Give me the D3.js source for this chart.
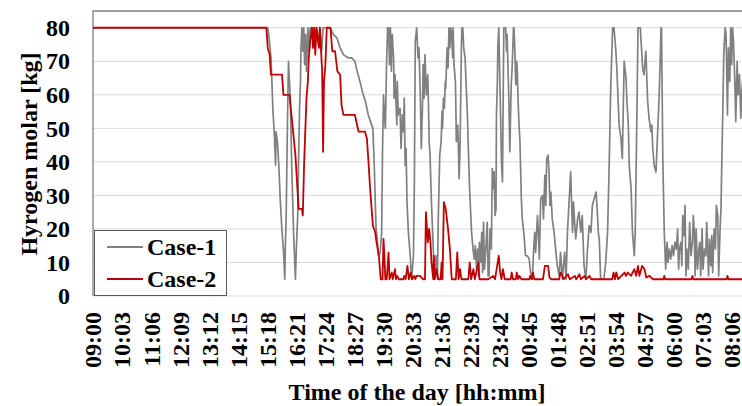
<!DOCTYPE html>
<html>
<head>
<meta charset="utf-8">
<script src="https://cdn.jsdelivr.net/npm/d3@7"></script>
<style>
  body { margin: 0; background: #fff; }
  svg { display: block; font-family: "Liberation Serif", "Times New Roman", serif; font-weight: bold; }
</style>
</head>
<body>
<svg id="chart" width="742" height="406"></svg>
<script>
// minutes after 09:00 and hydrogen mass [kg]
const case1Min = [0,376,379,381,384,386,388,390,393,396,397,400,403,406,410,413,416,417,419,422,424,426,428,431,435,439,441,444,446,448,450,451,453,455,457,459,461,463,466,468,471,479,481,484,489,492,496,499,515,521,529,536,543,554,561,568,573,579,586,591,597,602,607,610,612,614,617,619,623,626,628,630,632,634,637,639,641,643,645,647,649,652,653,655,657,659,660,662,666,668,671,673,675,677,679,681,684,688,691,695,697,699,702,705,707,709,710,712,715,716,718,720,722,723,726,728,729,731,734,738,741,744,747,749,752,755,757,758,760,762,764,765,768,770,772,774,776,778,780,781,783,786,787,788,791,792,794,796,797,799,800,802,804,807,809,812,814,817,821,825,827,829,832,834,836,838,841,843,845,847,849,852,855,857,859,861,864,866,868,870,872,874,875,877,878,880,883,886,888,891,895,897,898,902,904,907,909,912,913,915,917,919,920,922,924,926,929,931,935,938,942,946,949,953,955,958,960,964,966,968,971,975,977,980,982,984,987,989,991,993,996,1000,1004,1007,1011,1014,1018,1023,1026,1029,1032,1036,1040,1042,1045,1047,1051,1054,1058,1061,1065,1069,1072,1076,1080,1083,1087,1091,1093,1096,1098,1101,1108,1112,1116,1119,1123,1127,1130,1134,1136,1139,1141,1145,1148,1152,1156,1158,1161,1163,1167,1170,1174,1176,1180,1182,1187,1190,1192,1195,1199,1203,1206,1210,1212,1214,1217,1221,1224,1228,1232,1233,1236,1239,1242,1245,1247,1250,1253,1256,1259,1262,1265,1268,1270,1272,1275,1277,1279,1282,1284,1286,1288,1291,1294,1297,1300,1302,1304,1306,1308,1311,1314,1316,1318,1321,1323,1326,1329,1331,1333,1335,1337,1340,1342,1344,1347,1350,1352,1355,1357,1360,1362,1364,1366,1368,1371,1373,1376,1378,1381,1383,1385,1387,1389,1392,1394,1397,1399,1402,1405,1407,1410];
const case1Kg  = [80,80,80,78,74,71,64,56,49,39,49,46,39,29,19,14,5,14,24,54,70,64,59,39,19,5,14,24,42,56,64,74,80,73,80,69,78,67,80,73,80,80,74,80,75,80,73,80,80,78,77,74,72,71,71,70,67,64,60,58,54,52,50,39,29,20,16,12,13,19,44,60,54,50,71,80,80,69,80,67,78,71,59,66,58,51,64,54,56,44,54,49,59,39,44,28,19,12,5,12,34,76,80,71,74,64,59,44,59,69,59,72,64,60,66,54,46,42,28,14,6,12,5,24,42,46,55,50,59,56,64,62,74,68,80,74,80,78,71,80,69,64,56,46,51,47,35,44,54,74,80,80,74,71,64,54,44,31,19,13,11,15,8,14,6,16,10,19,7,22,8,14,22,6,6,20,14,38,32,37,24,26,54,64,74,80,60,40,34,80,80,73,78,58,43,63,68,80,80,73,63,70,68,58,51,46,29,23,18,12,12,11,7,5,12,19,13,24,19,11,29,30,23,36,27,41,42,37,27,31,23,19,13,9,6,13,5,13,5,19,27,37,19,28,21,17,23,25,19,24,9,5,13,21,19,27,29,31,27,19,17,5,5,10,19,36,63,80,80,73,68,58,51,47,41,70,65,58,51,39,32,19,12,19,58,80,80,73,68,66,73,58,53,49,51,44,39,37,47,60,80,80,39,19,8,16,10,14,11,15,12,16,14,20,8,14,16,9,24,18,27,6,14,8,22,12,16,24,19,6,20,8,14,16,6,20,8,14,12,22,14,6,17,9,18,7,20,14,27,24,6,20,26,42,56,72,80,78,54,74,64,80,69,80,76,64,52,70,60,66,53,61,66];

const case2Min = [0,376,379,383,386,410,413,426,429,434,439,446,453,455,458,463,466,468,471,475,477,480,482,485,490,492,497,499,501,504,507,515,519,525,530,536,539,543,568,576,590,594,597,601,607,612,615,620,624,628,630,632,634,637,641,643,648,650,655,657,660,663,673,675,678,682,685,689,692,697,699,702,709,716,720,722,726,729,732,734,738,739,741,745,749,754,756,758,761,765,770,774,778,787,790,793,796,799,814,817,820,825,828,836,838,857,868,872,880,883,886,889,893,906,908,911,917,919,922,925,929,946,948,951,954,957,976,980,987,990,994,1011,1014,1018,1021,1030,1034,1045,1048,1055,1058,1066,1069,1077,1080,1126,1129,1132,1135,1139,1153,1156,1160,1167,1174,1178,1182,1185,1191,1196,1200,1207,1214,1237,1239,1241,1298,1300,1302,1374,1376,1378,1411];
const case2Kg  = [80,80,74,72,66,66,60,60,56,49,42,26,26,24,40,59,64,71,76,80,74,80,72,80,74,80,67,43,64,69,80,80,73,73,67,66,57,54,54,49,49,47,41,32,21,19,16,12,5,5,17,12,5,5,13,5,7,5,8,5,6,5,5,6,5,9,5,7,5,6,5,6,6,5,5,25,16,20,16,10,5,12,5,8,5,5,10,5,28,26,20,14,5,5,13,5,8,5,5,10,5,8,5,10,5,5,6,5,12,7,5,8,5,5,7,5,5,7,5,6,5,5,6,5,7,5,5,9,9,5.5,5,5,7,6,5,6.5,5,6,5,6.5,5,6,5,6,5,5,7,5,7,5,7,6,7,6,8,6,9,6,9,8,5.5,6,5,5,6,5,5,6,5,5,6,5,5];

const tickLabels = ["09:00","10:03","11:06","12:09","13:12","14:15","15:18","16:21","17:24","18:27","19:30","20:33","21:36","22:39","23:42","00:45","01:48","02:51","03:54","04:57","06:00","07:03","08:06"];
const tickStep = 63;
const yTicks = [0,10,20,30,40,50,60,70,80];
const seriesNames = ["Case-1", "Case-2"];
const seriesColors = ["#808080", "#c00000"];

const svg = d3.select("#chart");
const plotLeft = 93, plotTop = 11, plotBottom = 296, plotRight = 756.5;

const x = d3.scaleLinear().domain([0, 1439]).range([plotLeft, plotRight]);
const y = d3.scaleLinear().domain([0, 85]).range([plotBottom, plotTop]);

// gridlines
svg.append("g")
  .selectAll("line")
  .data(yTicks)
  .enter().append("line")
    .attr("x1", plotLeft).attr("x2", plotRight)
    .attr("y1", d => y(d)).attr("y2", d => y(d))
    .attr("stroke", "#d9d9d9")
    .attr("stroke-width", 1);

// plot frame (top + left)
svg.append("path")
  .attr("d", `M${plotLeft},${plotBottom}V${plotTop}H${plotRight}`)
  .attr("fill", "none")
  .attr("stroke", "#808080")
  .attr("stroke-width", 1.3);

// y axis labels
const yAxis = d3.axisLeft(y).tickValues(yTicks).tickSize(0).tickPadding(23);
svg.append("g")
  .attr("transform", `translate(${plotLeft},0)`)
  .call(yAxis)
  .call(g => g.select(".domain").remove())
  .call(g => g.selectAll("text")
    .attr("font-size", 24)
    .attr("font-family", "Liberation Serif, Times New Roman, serif")
    .attr("font-weight", "bold")
    .attr("fill", "#000"));

// x tick labels, rotated
svg.append("g")
  .selectAll("text")
  .data(tickLabels)
  .enter().append("text")
    .attr("transform", (d, i) => `translate(${x(i * tickStep)},312) rotate(-90)`)
    .attr("text-anchor", "end")
    .attr("dy", "0.35em")
    .attr("font-size", 24)
    .text(d => d);

// titles
svg.append("text")
  .attr("x", 417).attr("y", 400)
  .attr("text-anchor", "middle")
  .attr("font-size", 24)
  .text("Time of the day [hh:mm]");

svg.append("text")
  .attr("transform", "translate(37,154) rotate(-90)")
  .attr("text-anchor", "middle")
  .attr("font-size", 24)
  .text("Hyrogen molar [kg]");

// series
const line = d3.line()
  .x(d => x(d[0]))
  .y(d => y(d[1]));

const series = [
  d3.zip(case1Min, case1Kg),
  d3.zip(case2Min, case2Kg)
];

svg.append("g")
  .selectAll("path")
  .data(series)
  .enter().append("path")
    .attr("d", line)
    .attr("fill", "none")
    .attr("stroke", (d, i) => seriesColors[i])
    .attr("stroke-width", (d, i) => i == 0 ? 1.7 : 1.8)
    .attr("stroke-linejoin", "round");

// legend
const legend = svg.append("g");
legend.append("rect")
  .attr("x", 94.5).attr("y", 230.5)
  .attr("width", 132).attr("height", 65)
  .attr("fill", "#fff")
  .attr("stroke", "#595959")
  .attr("stroke-width", 1);

const item = legend.selectAll("g.item")
  .data(seriesNames)
  .enter().append("g")
    .attr("class", "item")
    .attr("transform", (d, i) => `translate(0,${247 + i * 32})`);

item.append("line")
  .attr("x1", 107).attr("x2", 143)
  .attr("stroke", (d, i) => seriesColors[i])
  .attr("stroke-width", 2);

item.append("text")
  .attr("x", 147)
  .attr("dy", "0.35em")
  .attr("font-size", 24)
  .text(d => d);
</script>
</body>
</html>
